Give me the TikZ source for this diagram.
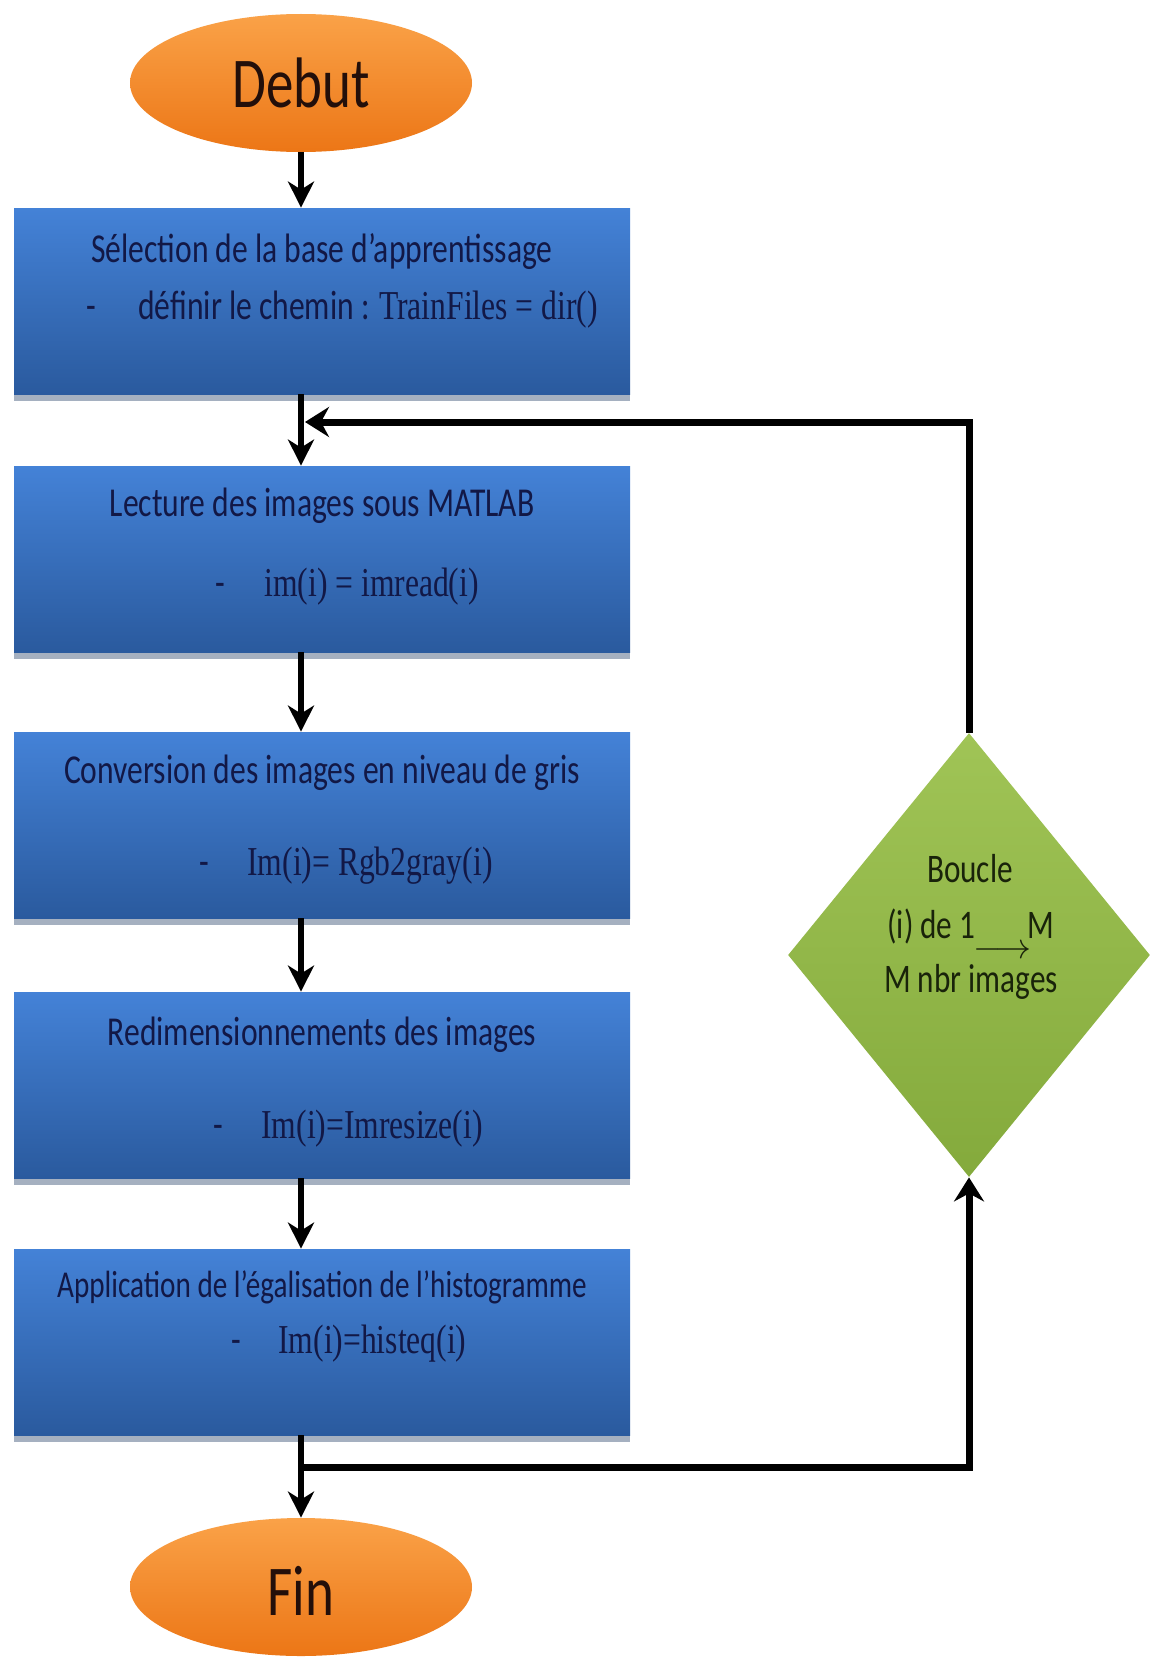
\documentclass[tikz,border=0pt]{standalone}
\usepackage{fontspec}
\usepackage{graphicx}
\setmainfont{Carlito}
\newfontfamily\tnr{Liberation Serif}
\usetikzlibrary{arrows.meta,shapes.geometric,shadows}
\definecolor{boxtop}{RGB}{68,130,215}
\definecolor{boxbot}{RGB}{42,90,158}
\definecolor{boxshadow}{RGB}{165,176,192}
\definecolor{boxtext}{RGB}{18,24,70}
\definecolor{orangetop}{RGB}{250,162,72}
\definecolor{orangebot}{RGB}{236,118,22}
\definecolor{greentop}{RGB}{160,196,86}
\definecolor{greenbot}{RGB}{132,170,60}
\definecolor{greentext}{RGB}{25,35,10}
\definecolor{termtext}{RGB}{35,15,10}
\newcommand\tall[1]{\scalebox{1}[1.3]{#1}}
\begin{document}
\begin{tikzpicture}[x=0.5pt,y=-0.5pt,
  stepbox/.style={rectangle, minimum width=308pt, minimum height=93pt, inner sep=0,
    top color=boxtop, bottom color=boxbot,
    drop shadow={shadow xshift=0pt, shadow yshift=-3.5pt, fill=boxshadow, opacity=1}},
  term/.style={ellipse, minimum width=171pt, minimum height=69pt, inner sep=0,
    top color=orangetop, bottom color=orangebot},
  decision/.style={diamond, minimum width=181pt, minimum height=222pt, inner sep=0,
    top color=greentop, bottom color=greenbot},
  boxlbl/.style={inner sep=0, text=boxtext, font=\fontsize{15.8pt}{19pt}\selectfont},
  smalllbl/.style={inner sep=0, text=boxtext, font=\fontsize{14.6pt}{18pt}\selectfont},
  dialbl/.style={inner sep=0, text=greentext, font=\fontsize{15.6pt}{19pt}\selectfont},
  termlbl/.style={inner sep=0, text=termtext, font=\fontsize{27.5pt}{32pt}\selectfont},
  flow/.style={line width=2.7pt, -{Stealth[length=13pt,width=13pt,inset=4pt]}},
  backline/.style={line width=3.5pt},
  backflow/.style={line width=3.5pt, -{Stealth[length=12pt,width=15pt,inset=4pt]}}
]
\fill[white] (0,0) rectangle (1152,1659);
\useasboundingbox (0,0) rectangle (1152,1659);

% terminals
\node[term] (deb) at (301,83) {};
\node[termlbl, anchor=base] (debt) at (301,108) {\tall{Debut}};
\node[term] (fin) at (301,1587) {};
\node[termlbl, anchor=base] (fint) at (301,1615) {\tall{Fin}};

% process boxes
\node[stepbox] (b1) at (322,301) {};
\node[stepbox] (b2) at (322,559) {};
\node[stepbox] (b3) at (322,825) {};
\node[stepbox] (b4) at (322,1085) {};
\node[stepbox] (b5) at (322,1342) {};

\node[boxlbl, anchor=base] (b1a) at (322,262) {\tall{Sélection de la base d’apprentissage}};
\node[boxlbl, anchor=base] (b1d) at (91,319) {\tall{-}};
\node[boxlbl, anchor=base west] (b1b) at (138,319) {\tall{définir le chemin : {\tnr TrainFiles = dir()}}};

\node[boxlbl, anchor=base] (b2a) at (322,516) {\tall{Lecture des images sous MATLAB}};
\node[boxlbl, anchor=base] (b2d) at (220,596) {\tall{-}};
\node[boxlbl, anchor=base west] (b2b) at (264,596) {\tall{\tnr im(i) = imread(i)}};

\node[boxlbl, anchor=base] (b3a) at (322,783) {\tall{Conversion des images en niveau de gris}};
\node[boxlbl, anchor=base] (b3d) at (204,875) {\tall{-}};
\node[boxlbl, anchor=base west] (b3b) at (247,875) {\tall{\tnr Im(i)= Rgb2gray(i)}};

\node[boxlbl, anchor=base] (b4a) at (322,1045) {\tall{Redimensionnements des images}};
\node[boxlbl, anchor=base] (b4d) at (218,1138) {\tall{-}};
\node[boxlbl, anchor=base west] (b4b) at (261,1138) {\tall{\tnr Im(i)=Imresize(i)}};

\node[smalllbl, anchor=base] (b5a) at (322,1297) {\tall{Application de l’égalisation de l’histogramme}};
\node[boxlbl, anchor=base] (b5d) at (236,1353) {\tall{-}};
\node[boxlbl, anchor=base west] (b5b) at (278,1353) {\tall{\tnr Im(i)=histeq(i)}};

% decision
\node[decision] (dia) at (969,955) {};
\node[dialbl, anchor=base] (diaa) at (970,882) {\tall{Boucle}};
\node[dialbl, anchor=base west] (diab) at (887,938) {\tall{(i) de 1}};
\node[dialbl, anchor=base west] (diam) at (1027,938) {\tall{M}};
\node[dialbl] (diaarr) at (1002,952) {\scalebox{1.25}{$\longrightarrow$}};
\node[dialbl, anchor=base] (diac) at (971,992) {\tall{M nbr images}};

% connectors
\coordinate (j1) at (305,422);
\coordinate (j2) at (301,1467);
\draw[flow] (deb.south) -- (deb.south |- b1.north);
\draw[flow] (b1.south -| deb) -- (b2.north -| deb);
\draw[flow] (b2.south -| deb) -- (b3.north -| deb);
\draw[flow] (b3.south -| deb) -- (b4.north -| deb);
\draw[flow] (b4.south -| deb) -- (b5.north -| deb);
\draw[flow] (b5.south -| deb) -- (fin.north);
\draw[backflow] (dia.north) |- (j1);
\draw[backflow] (j2) -| (dia.south);
\end{tikzpicture}
\end{document}
